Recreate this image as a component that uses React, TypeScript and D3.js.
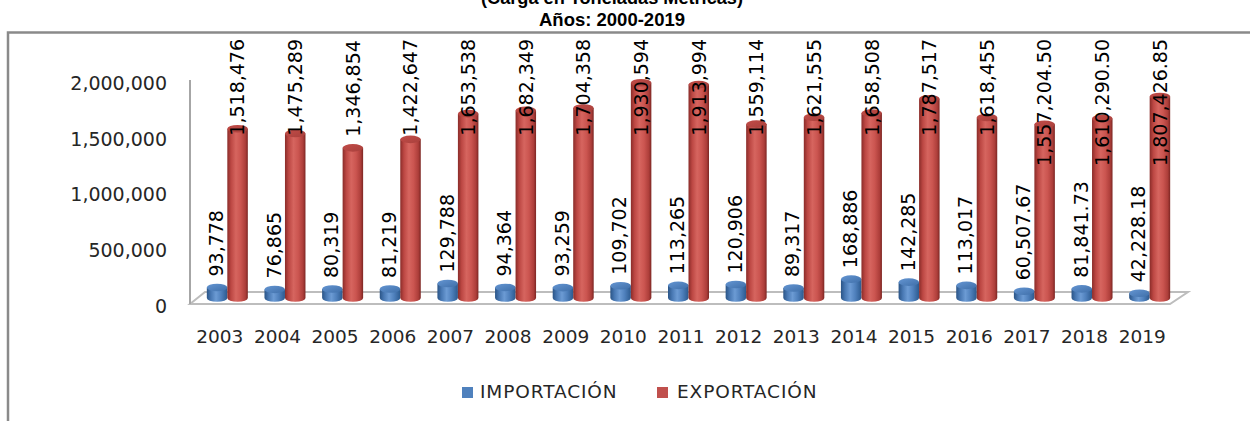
import React from "react";
import * as d3 from "d3";

const years = ["2003","2004","2005","2006","2007","2008","2009","2010","2011","2012","2013","2014","2015","2016","2017","2018","2019"];
const importacion = [93778, 76865, 80319, 81219, 129788, 94364, 93259, 109702, 113265, 120906, 89317, 168886, 142285, 113017, 60507.67, 81841.73, 42228.18];
const exportacion = [1518476, 1475289, 1346854, 1422647, 1653538, 1682349, 1704358, 1930594, 1913994, 1559114, 1621555, 1658508, 1787517, 1618455, 1557204.50, 1610290.50, 1807426.85];
const yTicks = [0, 500000, 1000000, 1500000, 2000000];
const seriesNames = ["IMPORTACIÓN", "EXPORTACIÓN"];
const titleLines = ["(Carga en Toneladas Métricas)", "Años: 2000-2019"];

const W = 1250, H = 421;
const floorX0 = 190, floorX1 = 1170, floorY = 304;
const depthDx = 17, depthDy = -12;
const labelFont = 19;
const plotTop = 39;

const fmt = (v: number) => (Number.isInteger(v) ? d3.format(",")(v) : d3.format(",.2f")(v));
const textLen = (s: string, size: number) =>
  s.split("").reduce((a, c) => a + (c === "," || c === "." ? 0.318 : 0.636), 0) * size;

export default function App() {
  const x = d3.scaleBand<string>().domain(years).range([floorX0, floorX1]).paddingInner(0).paddingOuter(0);
  const y = d3.scaleLinear().domain([0, 2000000]).range([floorY, 81]);
  const barW = 20.5;
  const ry = 3.8;
  const offX = depthDx / 2, offY = depthDy / 2;

  const cyl = (cx: number, v: number, id: string, key: string) => {
    const base = y(0) + offY;
    const top = y(v) + offY;
    const l = cx - barW / 2, r = cx + barW / 2;
    const d = `M${l},${top} L${l},${base} A${barW / 2},${ry} 0 0 0 ${r},${base} L${r},${top} Z`;
    return (
      <g key={key}>
        <path d={d} fill={`url(#${id}Body)`} />
        <ellipse cx={cx} cy={top} rx={barW / 2} ry={ry} fill={`url(#${id}Top)`} />
      </g>
    );
  };

  const label = (cx: number, v: number, key: string) => {
    const s = fmt(v);
    const L = textLen(s, labelFont);
    const barTop = y(v) + offY;
    let start = barTop - 11;
    if (start - L < plotTop) start = plotTop + L;
    return (
      <text key={key} transform={`translate(${cx},${start}) rotate(-90)`} dy="0.36em"
        fontFamily="DejaVu Sans" fontSize={labelFont} fill="#000">{s}</text>
    );
  };

  return (
    <svg width={W} height={H} style={{ position: "absolute", left: 0, top: 0, background: "#fff" }}>
      <defs>
        <linearGradient id="redBody" x1="0" x2="1" y1="0" y2="0">
          <stop offset="0%" stopColor="#8A2C29" />
          <stop offset="18%" stopColor="#BC4743" />
          <stop offset="42%" stopColor="#D6655F" />
          <stop offset="65%" stopColor="#CB5550" />
          <stop offset="88%" stopColor="#AD3E3A" />
          <stop offset="100%" stopColor="#7C2623" />
        </linearGradient>
        <linearGradient id="redTop" x1="0" x2="1" y1="0" y2="1">
          <stop offset="0%" stopColor="#C24C48" />
          <stop offset="100%" stopColor="#A8403C" />
        </linearGradient>
        <linearGradient id="blueBody" x1="0" x2="1" y1="0" y2="0">
          <stop offset="0%" stopColor="#2A5486" />
          <stop offset="20%" stopColor="#4878B3" />
          <stop offset="45%" stopColor="#6C9BD4" />
          <stop offset="70%" stopColor="#4F80BC" />
          <stop offset="100%" stopColor="#2C5A8F" />
        </linearGradient>
        <linearGradient id="blueTop" x1="0" x2="1" y1="0" y2="1">
          <stop offset="0%" stopColor="#6495D2" />
          <stop offset="100%" stopColor="#3F6FA9" />
        </linearGradient>
      </defs>

      {/* titles */}
      <text x={612} y={3.5} textAnchor="middle" fontFamily="Liberation Sans" fontWeight="bold" fontSize={18.5} fill="#000"
        textLength={262} lengthAdjust="spacingAndGlyphs">{titleLines[0]}</text>
      <text x={612} y={26} textAnchor="middle" fontFamily="Liberation Sans" fontWeight="bold" fontSize={18.5} fill="#000">{titleLines[1]}</text>

      {/* chart border */}
      <path d={`M8,${H} L8,32.5 L${W},32.5`} fill="none" stroke="#8a8a8a" strokeWidth={2.5} />

      {/* floor */}
      <path d={`M${floorX0},${floorY} L${floorX0 + depthDx - 2},${floorY + depthDy} L${floorX1 + depthDx + 1},${floorY + depthDy} L${floorX1},${floorY} Z`}
        fill="#fff" stroke="#bdbdbd" strokeWidth={2} />
      {/* vertical axis line */}
      <line x1={floorX0} x2={floorX0} y1={y(2000000) - 1} y2={floorY} stroke="#a6a6a6" strokeWidth={2} />

      {/* y ticks */}
      {yTicks.map((t) => (
        <text key={t} x={167} y={y(t) + 2} dy="0.36em" textAnchor="end" fontFamily="DejaVu Sans" fontSize={19} fill="#262626">
          {d3.format(",")(t)}
        </text>
      ))}

      {/* bars */}
      {years.map((yr, i) => {
        const c = (x(yr) as number) + x.bandwidth() / 2 + offX;
        return (
          <g key={yr}>
            {cyl(c - barW / 2, importacion[i], "blue", "b")}
            {cyl(c + barW / 2, exportacion[i], "red", "r")}
          </g>
        );
      })}

      {/* labels */}
      {years.map((yr, i) => {
        const c = (x(yr) as number) + x.bandwidth() / 2 + offX;
        return (
          <g key={"l" + yr}>
            {label(c - barW / 2 - 1, importacion[i], "bl")}
            {label(c + barW / 2, exportacion[i], "rl")}
          </g>
        );
      })}

      {/* x labels */}
      {years.map((yr) => (
        <text key={"x" + yr} x={(x(yr) as number) + x.bandwidth() / 2 + 1} y={343} textAnchor="middle"
          fontFamily="DejaVu Sans" fontSize={18.5} fill="#262626">{yr}</text>
      ))}

      {/* legend */}
      <rect x={462} y={387} width={11} height={11} fill="#4F81BD" />
      <text x={480} y={398} fontFamily="DejaVu Sans" fontSize={18.5} letterSpacing={0.9} fill="#262626">{seriesNames[0]}</text>
      <rect x={657} y={387} width={11} height={11} fill="#C0504D" />
      <text x={677} y={398} fontFamily="DejaVu Sans" fontSize={18.5} letterSpacing={0.9} fill="#262626">{seriesNames[1]}</text>
    </svg>
  );
}
